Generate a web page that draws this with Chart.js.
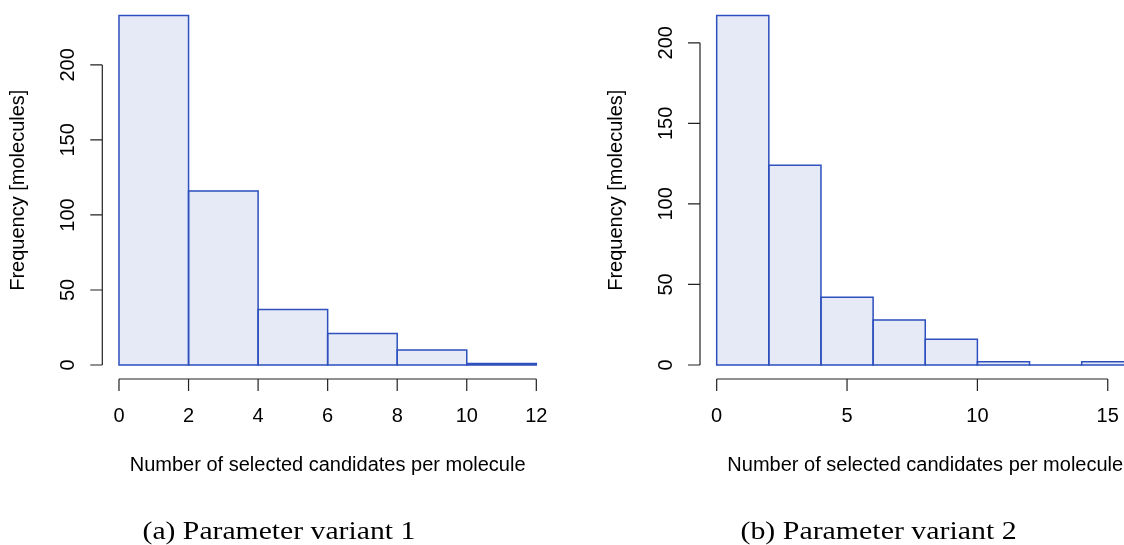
<!DOCTYPE html>
<html>
<head>
<meta charset="utf-8">
<script src="https://cdn.jsdelivr.net/npm/chart.js@4/dist/chart.umd.min.js"></script>
<style>
  html, body { margin:0; padding:0; background:#fff; }
  body { width:1124px; height:545px; overflow:hidden; position:relative; }
  #c1 { position:absolute; left:0; top:0; }
  #c2 { position:absolute; left:562px; top:0; }
  .cap { position:absolute; font-family:"Liberation Serif","DejaVu Serif",serif; font-size:25px; color:#000; white-space:nowrap; transform-origin:center center; }
</style>
</head>
<body>
<canvas id="c1" width="562" height="545"></canvas>
<canvas id="c2" width="600" height="545"></canvas>
<div class="cap" id="cap1">(a) Parameter variant 1</div>
<div class="cap" id="cap2">(b) Parameter variant 2</div>
<script>
// ---- data ----
const binEdges1 = [0, 2, 4, 6, 8, 10, 12];
const counts1   = [233, 116, 37, 21, 10, 1];
const xTicks1   = [0, 2, 4, 6, 8, 10, 12];

const binEdges2 = [0, 2, 4, 6, 8, 10, 12, 14, 16];
const counts2   = [217, 124, 42, 28, 16, 2, 0, 2];
const xTicks2   = [0, 5, 10, 15];

const yTicks1 = [0, 50, 100, 150, 200];
const yTicks2 = [0, 50, 100, 150, 200];

const xTitle = "Number of selected candidates per molecule";
const yTitle = "Frequency [molecules]";
const captions = ["(a) Parameter variant 1", "(b) Parameter variant 2"];

// ---- styling ----
const FILL = "#e6eaf6";
const EDGE = "#2d50be";
const AXIS = "#222222";
const FONT = '20px "Liberation Sans", Arial, sans-serif';

const rAxesPlugin = {
  id: 'rAxes',
  afterDatasetsDraw(chart) {
    const ctx = chart.ctx;
    // bar outlines (R-style, all four sides)
    const meta = chart.getDatasetMeta(0);
    ctx.save();
    ctx.strokeStyle = EDGE;
    ctx.lineWidth = 1.5;
    meta.data.forEach(b => {
      const p = b.getProps(['x','y','base','width'], true);
      const l = p.x - p.width / 2, r = p.x + p.width / 2;
      ctx.beginPath();
      ctx.rect(l, Math.min(p.y, p.base), r - l, Math.abs(p.base - p.y));
      ctx.stroke();
    });
    ctx.restore();
  },
  afterDraw(chart, args, opts) {
    const ctx = chart.ctx;
    const xs = chart.scales.x, ys = chart.scales.y;
    const ca = chart.chartArea;
    const ax = ca.left, ay = ca.bottom;
    const tl = 12;
    ctx.save();
    ctx.strokeStyle = AXIS;
    ctx.lineWidth = 1.2;
    ctx.fillStyle = "#000";
    ctx.font = FONT;
    // y axis
    const yt = opts.yTicks;
    ctx.beginPath();
    ctx.moveTo(ax, ys.getPixelForValue(yt[0]));
    ctx.lineTo(ax, ys.getPixelForValue(yt[yt.length - 1]));
    yt.forEach(v => {
      const py = ys.getPixelForValue(v);
      ctx.moveTo(ax, py); ctx.lineTo(ax - tl, py);
    });
    ctx.stroke();
    ctx.textAlign = 'center';
    ctx.textBaseline = 'middle';
    yt.forEach(v => {
      const py = ys.getPixelForValue(v);
      ctx.save();
      ctx.translate(ax - 35, py);
      ctx.rotate(-Math.PI / 2);
      ctx.fillText(String(v), 0, 1);
      ctx.restore();
    });
    // x axis
    const xt = opts.xTicks;
    ctx.beginPath();
    ctx.moveTo(xs.getPixelForValue(xt[0]), ay);
    ctx.lineTo(xs.getPixelForValue(xt[xt.length - 1]), ay);
    xt.forEach(v => {
      const px = xs.getPixelForValue(v);
      ctx.moveTo(px, ay); ctx.lineTo(px, ay + tl);
    });
    ctx.stroke();
    xt.forEach(v => {
      ctx.fillText(String(v), xs.getPixelForValue(v), ay + 37);
    });
    // titles
    ctx.fillText(xTitle, (ca.left + ca.right) / 2, ay + 86);
    ctx.save();
    ctx.translate(ax - 84, (ca.top + ca.bottom) / 2);
    ctx.rotate(-Math.PI / 2);
    ctx.fillText(yTitle, 0, 0);
    ctx.restore();
    ctx.restore();
  }
};

function makeHist(canvasId, edges, counts, xTicks, yTicks, padLeft, padRight) {
  const data = counts.map((c, i) => ({ x: (edges[i] + edges[i + 1]) / 2, y: c }));
  const lo = edges[0], hi = edges[edges.length - 1];
  const ext = 0.04 * (hi - lo);
  const ymax = Math.max(...counts);
  return new Chart(document.getElementById(canvasId), {
    type: 'bar',
    data: { datasets: [{ data, backgroundColor: FILL, borderWidth: 0,
      barPercentage: 1, categoryPercentage: 1 }] },
    options: {
      responsive: false, animation: false,
      layout: { padding: { left: padLeft, right: padRight, top: 1.4, bottom: 166 } },
      scales: {
        x: { type: 'linear', min: lo - ext, max: hi + ext, display: false,
             offset: false, bounds: 'data', grid: { offset: false },
             afterBuildTicks: (axis) => { axis.ticks = edges.map(v => ({ value: v })); } },
        y: { type: 'linear', min: -0.04 * ymax, max: 1.04 * ymax, display: false,
             bounds: 'data' }
      },
      plugins: { legend: { display: false }, tooltip: { enabled: false },
                 rAxes: { xTicks, yTicks } }
    },
    plugins: [rAxesPlugin]
  });
}

makeHist('c1', binEdges1, counts1, xTicks1, yTicks1, 102.3, 9);
makeHist('c2', binEdges2, counts2, xTicks2, yTicks2, 138, 11.5);

// captions
const capPos = [{ cx: 279, cy: 531 }, { cx: 878, cy: 531 }];
const capW = [273, 276];
['cap1', 'cap2'].forEach((id, i) => {
  const el = document.getElementById(id);
  el.textContent = captions[i];
  const w = el.offsetWidth, h = el.offsetHeight;
  const s = capW[i] / w;
  el.style.left = (capPos[i].cx - w / 2) + 'px';
  el.style.top = (capPos[i].cy - h / 2) + 'px';
  el.style.transform = 'scaleX(' + s.toFixed(3) + ')';
});
</script>
</body>
</html>
